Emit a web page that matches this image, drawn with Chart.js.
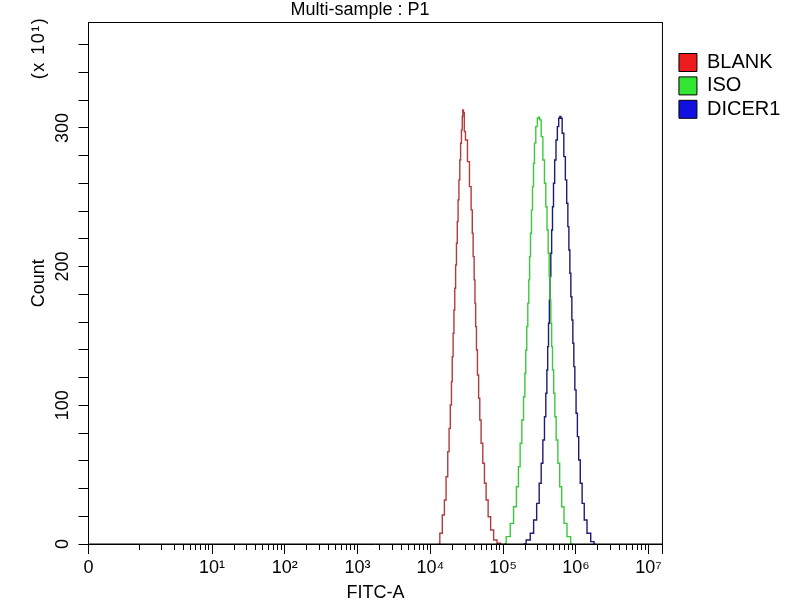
<!DOCTYPE html>
<html><head><meta charset="utf-8">
<script src="https://cdn.jsdelivr.net/npm/chart.js@4.4.1/dist/chart.umd.min.js"></script>
<style>html,body{margin:0;padding:0;background:#fff;overflow:hidden}canvas{display:block}</style>
</head><body>
<canvas id="c" width="800" height="600"></canvas>
<script>
const chartTitle = 'Multi-sample : P1';
const yUnitLabel = '(x 10\u00B9)';
const seriesNames = ['BLANK', 'ISO', 'DICER1'];
const lineColors = ['#b03c3c', '#3cc83c', '#1c1c72'];
const legendColors = ['#ee1c1c', '#33e633', '#1010e0'];

// FITC-A intensity (x) and Count in units of 10^1 (y)
const blankX = [1.30e4,1.40e4,1.52e4,1.60e4,1.69e4,1.78e4,1.84e4,1.92e4,1.98e4,2.02e4,2.09e4,2.13e4,2.20e4,2.25e4,2.32e4,2.37e4,2.44e4,2.50e4,2.58e4,2.63e4,2.72e4,2.77e4,2.81e4,2.90e4,2.96e4,3.12e4,3.36e4,3.54e4,3.73e4,3.81e4,3.94e4,4.06e4,4.15e4,4.24e4,4.37e4,4.51e4,4.71e4,4.85e4,5.12e4,5.40e4,5.69e4,6.00e4,6.46e4,7.03e4,7.82e4,8.69e4,9.64e4];
const blankY = [0,7.7,20.9,31.7,48.5,66.6,83.4,100.2,117.1,135.1,151.9,168.7,184.4,201.2,216.8,232.4,248.1,262.5,276.9,288.9,298.6,308.2,313,311,297.3,291.3,275.7,257.7,240.9,224.0,207.2,190.4,173.6,156.7,139.9,121.9,105.1,89.4,72.6,58.2,43.8,31.7,19.7,10.1,2.9,0.5,0];

const isoX = [1.02e5,1.19e5,1.32e5,1.47e5,1.58e5,1.67e5,1.76e5,1.86e5,1.96e5,2.02e5,2.08e5,2.15e5,2.22e5,2.29e5,2.34e5,2.42e5,2.49e5,2.58e5,2.66e5,2.74e5,2.89e5,3.02e5,3.11e5,3.25e5,3.43e5,3.61e5,3.80e5,3.93e5,4.10e5,4.23e5,4.37e5,4.46e5,4.60e5,4.70e5,4.85e5,5.06e5,5.22e5,5.51e5,5.81e5,6.18e5,6.59e5,7.17e5,7.96e5,9.04e5];
const isoY = [0,5.3,14.9,26.9,41.3,55.7,72.6,89.4,106.2,123.1,139.9,156.7,173.6,190.4,207.2,224.1,240.9,257.7,274.5,289.0,300.9,307.0,307.7,305.8,293.7,276.9,260.1,243.2,226.4,209.6,192.8,176.0,159.2,142.3,125.5,108.7,91.8,75.0,58.2,41.3,26.9,14.9,5.3,0];

const dicerX = [1.92e5,2.24e5,2.49e5,2.77e5,3.02e5,3.25e5,3.43e5,3.61e5,3.80e5,3.93e5,4.06e5,4.14e5,4.28e5,4.37e5,4.46e5,4.60e5,4.70e5,4.85e5,5.01e5,5.22e5,5.45e5,5.69e5,5.93e5,6.12e5,6.32e5,6.65e5,7.02e5,7.33e5,7.64e5,7.89e5,8.15e5,8.40e5,8.67e5,8.95e5,9.24e5,9.53e5,9.84e5,1.03e6,1.07e6,1.12e6,1.18e6,1.26e6,1.35e6,1.50e6,1.71e6,1.85e6];
const dicerY = [0,2.9,7.7,17.3,29.3,43.8,58.2,75.0,91.8,108.7,125.5,142.3,159.2,176.0,192.8,209.6,226.4,243.2,260.1,276.9,291.3,300.9,307.0,308.2,307.0,296.2,279.3,262.5,245.7,228.8,212.0,195.2,178.3,161.5,144.7,127.9,111.1,94.3,77.4,60.6,43.8,29.3,17.3,7.7,1.7,0];

const xMin = 0.2, xMax = 1.55e7;
const xMajorTicks = [0.2, 10, 100, 1e3, 1e4, 1e5, 1e6, 1e7, 1.55e7];
const xMajorLabels = ['0', '10\u00B9', '10\u00B2', '10\u00B3', '10\u2074', '10\u2075', '10\u2076', '10\u2077', ''];
const xMinorMultipliers = [2, 3, 4, 5, 6, 7, 8, 9];
const xMinorDecades = [1, 10, 100, 1e3, 1e4, 1e5, 1e6];
const yMin = 0, yMax = 376;
const yTicks = [0,20,40,60,80,100,120,140,160,180,200,220,240,260,280,300,320,340,360];
const yLabelTicks = [0, 100, 200, 300];

const xMinorTicks = [1];
xMinorDecades.forEach(d => xMinorMultipliers.forEach(m => xMinorTicks.push(m * d)));

const FONT = "'Liberation Sans', Arial, sans-serif";
Chart.defaults.font.family = FONT;
Chart.defaults.color = '#000';

function pts(xs, ys) { return xs.map((x, i) => ({x: x, y: ys[i]})); }
const seriesData = [pts(blankX, blankY), pts(isoX, isoY), pts(dicerX, dicerY)];

const framePlugin = {
  id: 'frameAndTexts',
  afterDraw(chart) {
    const {ctx, chartArea: a} = chart;
    ctx.save();
    ctx.strokeStyle = '#000';
    ctx.lineWidth = 1;
    ctx.strokeRect(a.left, a.top, a.right - a.left, a.bottom - a.top);
    ctx.fillStyle = '#000';
    ctx.font = '18px ' + FONT;
    ctx.textAlign = 'center';
    ctx.textBaseline = 'alphabetic';
    ctx.fillText(chartTitle, 360, 14.5);
    ctx.translate(39, 48);
    ctx.rotate(-Math.PI / 2);
    ctx.textBaseline = 'middle';
    if ('letterSpacing' in ctx) ctx.letterSpacing = '1.5px';
    ctx.fillText(yUnitLabel, 0, 0);
    ctx.restore();
  }
};

new Chart(document.getElementById('c'), {
  type: 'line',
  data: {
    datasets: seriesNames.map((name, i) => ({
      label: name,
      data: seriesData[i],
      borderColor: lineColors[i],
      backgroundColor: legendColors[i],
      borderWidth: 1.4,
      pointRadius: 0,
      stepped: 'middle',
      fill: false
    }))
  },
  options: {
    responsive: false,
    animation: false,
    events: [],
    layout: {padding: {top: 22.5, left: 0, right: 9.7, bottom: 0}},
    plugins: {
      tooltip: {enabled: false},
      legend: {
        position: 'right',
        align: 'start',
        title: {display: true, text: '', font: {size: 10}, padding: {top: 14.6, bottom: 0}},
        labels: {
          boxWidth: 18, boxHeight: 18, padding: 3.4,
          font: {size: 20}, color: '#000',
          generateLabels(chart) {
            return chart.data.datasets.map((ds, i) => ({
              text: ds.label, fillStyle: legendColors[i], strokeStyle: '#000',
              lineWidth: 1, hidden: false, datasetIndex: i, fontColor: '#000'
            }));
          }
        }
      }
    },
    scales: {
      x: {
        type: 'logarithmic', position: 'bottom', weight: 0, min: xMin, max: xMax,
        afterBuildTicks: s => { s.ticks = xMajorTicks.map(v => ({value: v})); },
        afterFit: s => { s.height = 56; },
        ticks: {
          autoSkip: false, minRotation: 0, maxRotation: 0, padding: 3,
          font: {size: 18}, color: '#000',
          callback: (v, i) => xMajorLabels[i]
        },
        grid: {drawOnChartArea: false, tickLength: 10, color: '#000'},
        border: {display: true, color: '#000'},
        title: {display: true, text: 'FITC-A', font: {size: 18}, color: '#000', padding: {top: 0, bottom: -4}}
      },
      x2: {
        type: 'logarithmic', position: 'bottom', weight: -10, min: xMin, max: xMax,
        afterBuildTicks: s => { s.ticks = xMinorTicks.map(v => ({value: v})); },
        afterFit: s => { s.height = 0; },
        ticks: {display: false},
        grid: {drawOnChartArea: false, tickLength: 6, color: '#000'},
        border: {display: false}
      },
      y: {
        type: 'linear', position: 'left', min: yMin, max: yMax,
        afterBuildTicks: s => { s.ticks = yTicks.map(v => ({value: v})); },
        afterFit: s => { s.width = 88.5; },
        ticks: {
          autoSkip: false, minRotation: 90, maxRotation: 90, crossAlign: 'center', padding: 0,
          font: {size: 18}, color: '#000',
          callback: v => yLabelTicks.includes(v) ? String(v) : ''
        },
        grid: {drawOnChartArea: false, tickLength: 10, color: '#000'},
        border: {display: true, color: '#000'},
        title: {display: true, text: 'Count', font: {size: 18}, color: '#000', padding: {top: 28, bottom: 0}}
      },
      y2: {
        type: 'linear', position: 'right', min: yMin, max: yMax,
        ticks: {display: false}, grid: {display: false}, border: {display: false},
        afterFit: s => { s.width = 13.1; }
      }
    }
  },
  plugins: [framePlugin]
});
</script>
</body></html>
